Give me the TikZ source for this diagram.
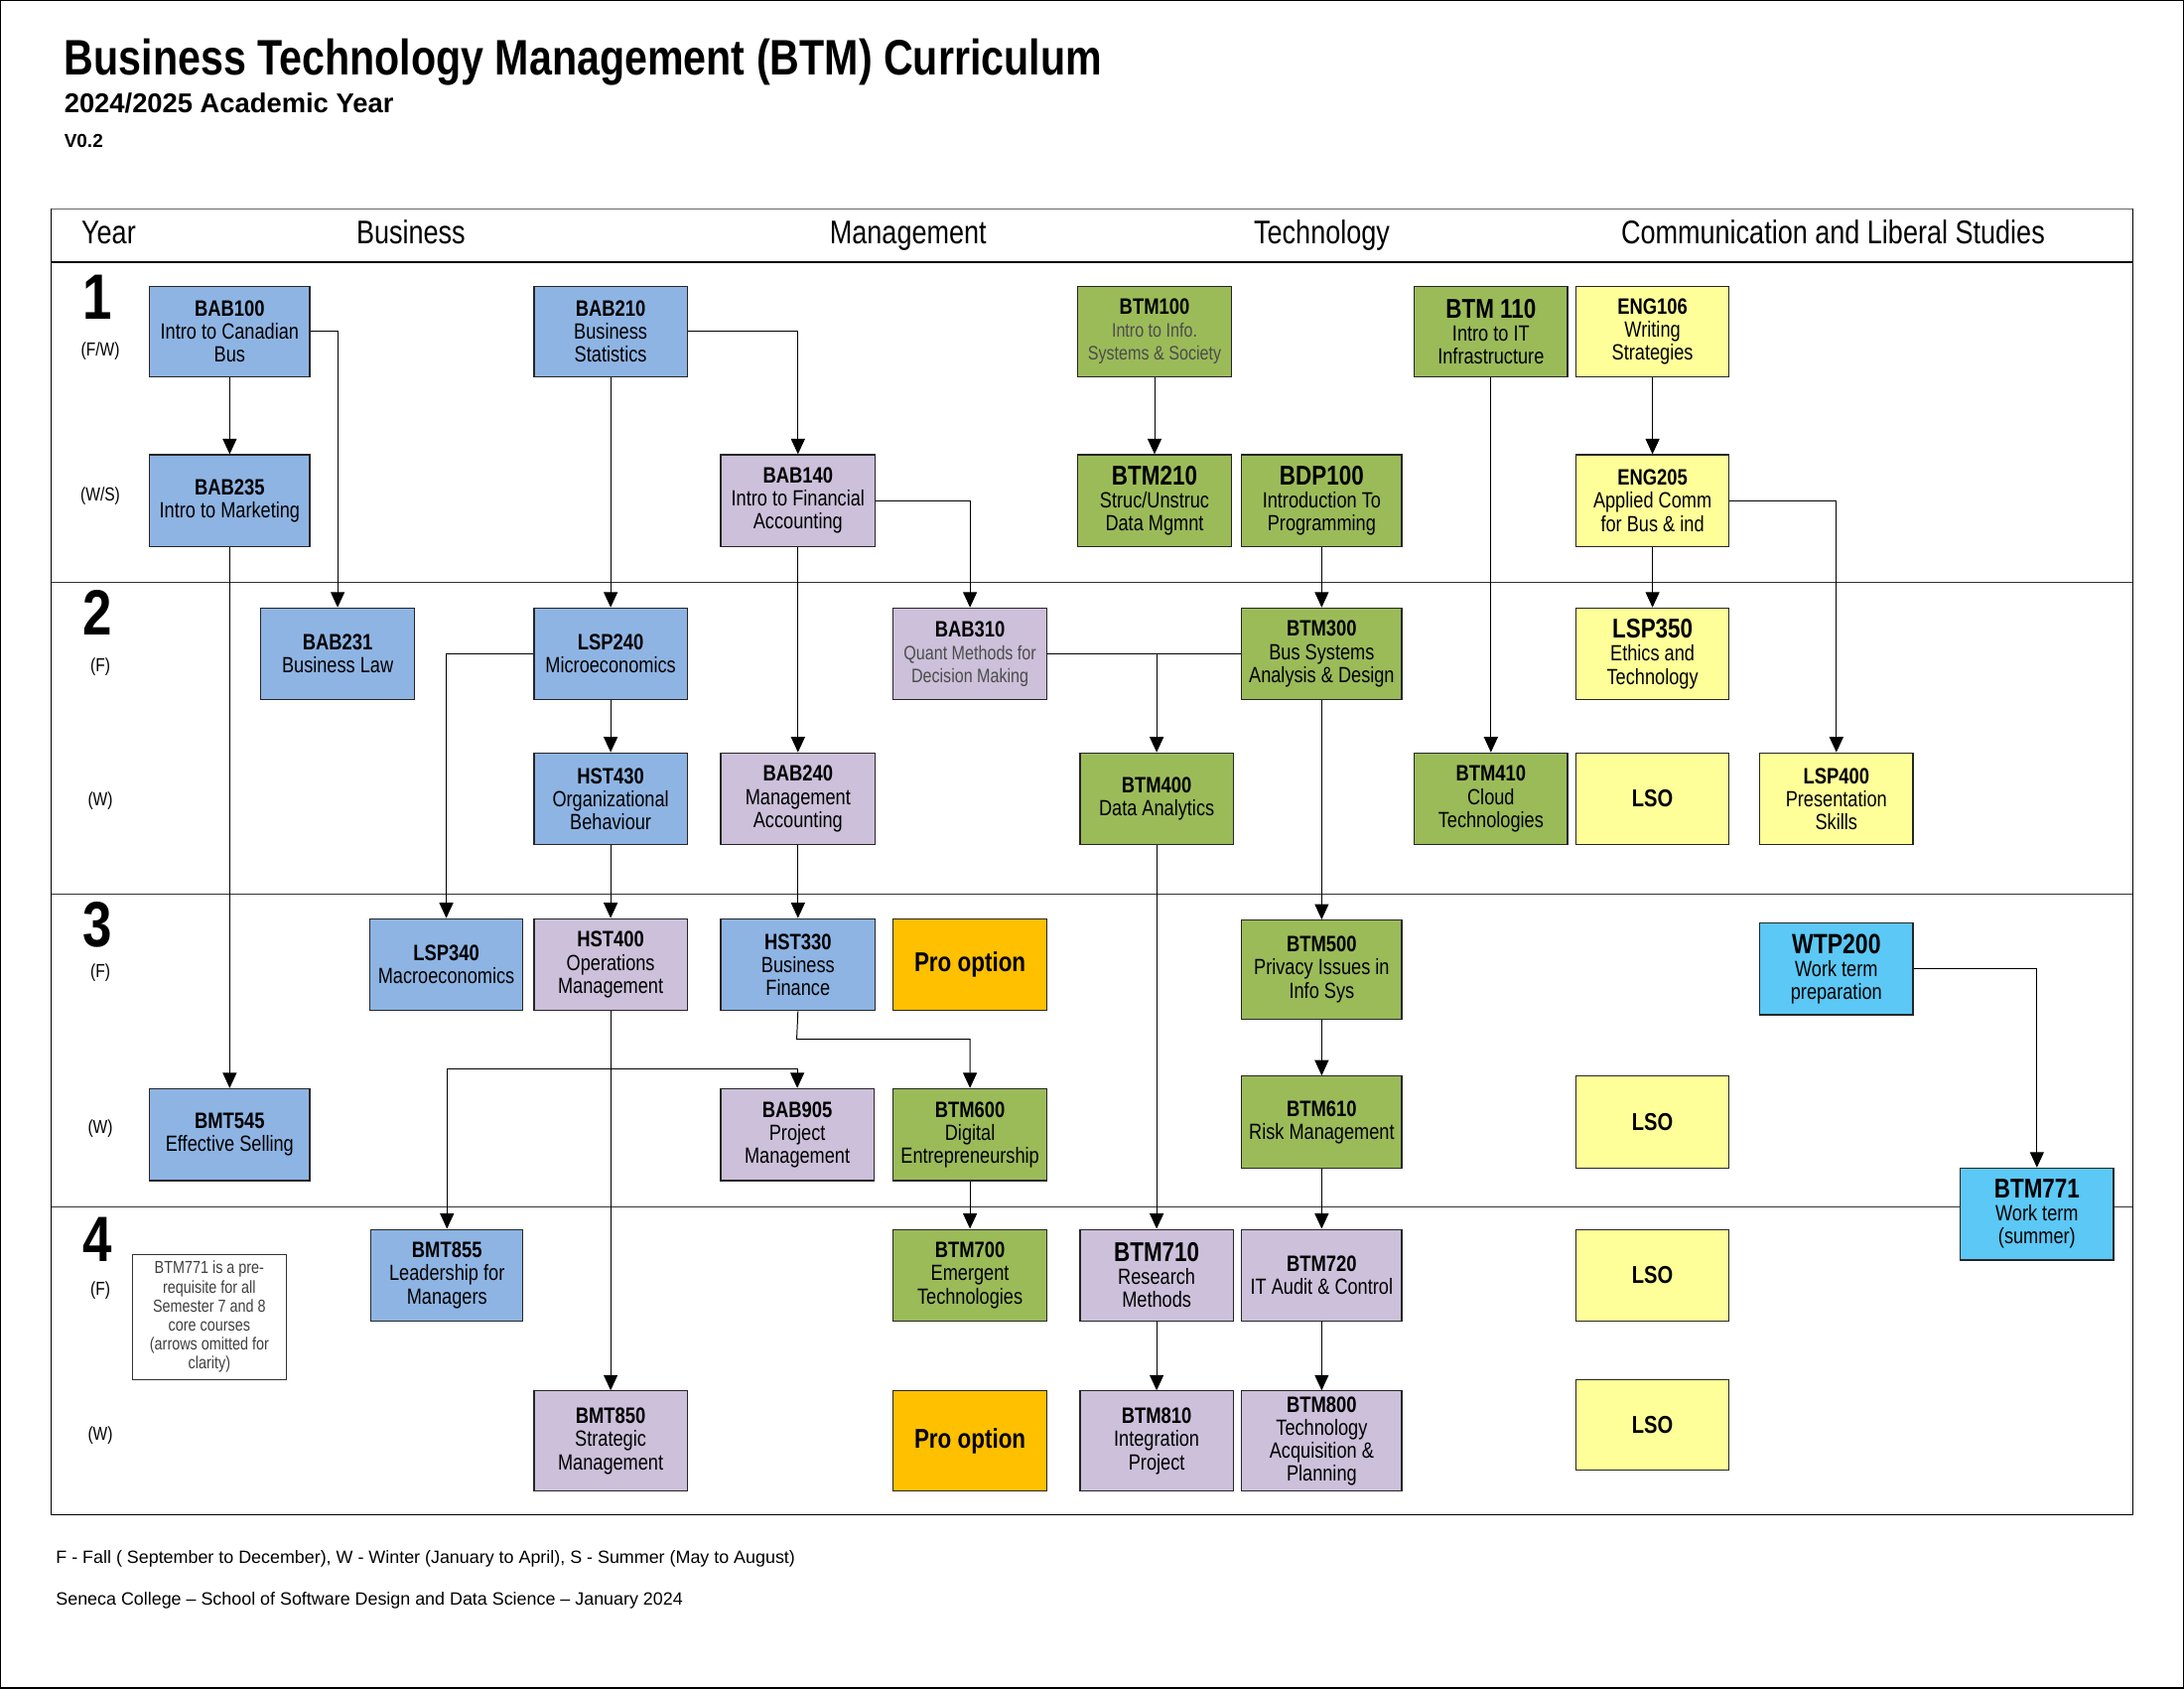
\documentclass[tikz,border=0pt]{standalone}
\usepackage{fontspec}
\setmainfont{Liberation Sans}[FakeStretch=0.82]
\newfontfamily\widesans{Liberation Sans}
\usetikzlibrary{arrows.meta}
\definecolor{cblue}{HTML}{8EB4E3}
\definecolor{clav}{HTML}{CCC0DA}
\definecolor{cgreen}{HTML}{9BBB59}
\definecolor{cyel}{HTML}{FFFF99}
\definecolor{corange}{HTML}{FFC000}
\definecolor{ccyan}{HTML}{5BC8F5}
\newcommand\cd[1]{{\fontsize{16}{17}\selectfont\bfseries #1}}
\newcommand\cD[1]{{\fontsize{19.5}{19.5}\selectfont\bfseries #1}}
\newcommand\lite[1]{{\fontsize{14}{15.5}\selectfont\color{black!70}#1}}
\newcommand\crsbox[7]{\node[crs,fill=#1,minimum width={#5-#3},minimum height={#6-#4}] (#2) at (#3,#4) {#7};}
\tikzset{
  crs/.style={draw=black!85, line width=0.8pt, inner sep=0pt, anchor=north west, align=center,
    font=\fontsize{15.8}{16.5}\selectfont},
  arr/.style={draw=black, line width=0.7pt, -{Triangle[length=11pt,width=10pt]}},
  ln/.style={draw=black, line width=0.7pt},
  hdr/.style={font=\fontsize{23.5}{25}\selectfont, anchor=base},
  yr/.style={font=\fontsize{46}{46}\selectfont\bfseries},
  sem/.style={font=\fontsize{13.5}{15}\selectfont},
  foot/.style={font=\widesans\fontsize{12.75}{15}\selectfont, anchor=base west},
  pro/.style={font=\fontsize{19.5}{20}\selectfont\bfseries},
}
\begin{document}
\begin{tikzpicture}[x=1pt,y=-1pt]
\useasboundingbox (0,0) rectangle (1568,1212);
\draw[line width=1pt] (0.5,0.5) rectangle (1567.5,1211.5);
% titles
\node[anchor=base west, inner sep=0, font=\fontsize{35.8}{38}\selectfont\bfseries] (title) at (46,54) {Business Technology Management (BTM) Curriculum};
\node[anchor=base west, inner sep=0, font=\widesans\fontsize{19.5}{21}\selectfont\bfseries] (subtitle) at (46,81) {2024/2025 Academic Year};
\node[anchor=base west, inner sep=0, font=\widesans\fontsize{13.5}{15}\selectfont\bfseries] (ver) at (46,106) {V0.2};
% frame
\draw[black!60, line width=0.8pt] (37,150) -- (1531,150);
\draw[line width=0.8pt] (37,150) -- (37,1087) -- (1531,1087) -- (1531,150);
\draw[line width=1.2pt] (37,188) -- (1531,188);
\draw[black!80, line width=0.8pt] (37,418) -- (1531,418);
\draw[black!80, line width=0.8pt] (37,642) -- (1531,642);
\draw[black!80, line width=0.8pt] (37,866) -- (1531,866);
% header
\node[hdr, inner sep=0] (hyear) at (78,175) {Year};
\node[hdr, inner sep=0] (hbus) at (295,175) {Business};
\node[hdr, inner sep=0] (hman) at (652,175) {Management};
\node[hdr, inner sep=0] (htec) at (949,175) {Technology};
\node[hdr, inner sep=0] (hcom) at (1316,175) {Communication and Liberal Studies};
% year labels
\node[yr, inner sep=0] (y1) at (70,213) {1};
\node[yr, inner sep=0] (y2) at (70,440) {2};
\node[yr, inner sep=0] (y3) at (70,664) {3};
\node[yr, inner sep=0] (y4) at (70,890) {4};
\node[sem] (s1) at (72,252) {(F/W)};
\node[sem] (s2) at (72,356) {(W/S)};
\node[sem] (s3) at (72,479) {(F)};
\node[sem] (s4) at (72,575) {(W)};
\node[sem] (s5) at (72,698) {(F)};
\node[sem] (s6) at (72,810) {(W)};
\node[sem] (s7) at (72,926) {(F)};
\node[sem] (s8) at (72,1030) {(W)};
% Year 1
\crsbox{cblue}{bab100}{107}{205}{222}{270}{\cd{BAB100}\\Intro to Canadian\\Bus}
\crsbox{cblue}{bab210}{383}{205}{493}{270}{\cd{BAB210}\\Business\\Statistics}
\crsbox{cgreen}{btm100}{773}{205}{884}{270}{\cd{BTM100}\\\lite{Intro to Info.}\\\lite{Systems \& Society}}
\crsbox{cgreen}{btm110}{1015}{205}{1125}{270}{\cD{BTM 110}\\Intro to IT\\Infrastructure}
\crsbox{cyel}{eng106}{1131}{205}{1241}{270}{\cd{ENG106}\\Writing\\Strategies}
\crsbox{cblue}{bab235}{107}{326}{222}{392}{\cd{BAB235}\\Intro to Marketing}
\crsbox{clav}{bab140}{517}{326}{628}{392}{\cd{BAB140}\\Intro to Financial\\Accounting}
\crsbox{cgreen}{btm210}{773}{326}{884}{392}{\cD{BTM210}\\Struc/Unstruc\\Data Mgmnt}
\crsbox{cgreen}{bdp100}{891}{326}{1006}{392}{\cD{BDP100}\\Introduction To\\Programming}
\crsbox{cyel}{eng205}{1131}{326}{1241}{392}{\cd{ENG205}\\Applied Comm\\for Bus \& ind}
% Year 2
\crsbox{cblue}{bab231}{187}{436}{297}{502}{\cd{BAB231}\\Business Law}
\crsbox{cblue}{lsp240}{383}{436}{493}{502}{\cd{LSP240}\\Microeconomics}
\crsbox{clav}{bab310}{641}{436}{751}{502}{\cd{BAB310}\\\lite{Quant Methods for}\\\lite{Decision Making}}
\crsbox{cgreen}{btm300}{891}{436}{1006}{502}{\cd{BTM300}\\Bus Systems\\Analysis \& Design}
\crsbox{cyel}{lsp350}{1131}{436}{1241}{502}{\cD{LSP350}\\Ethics and\\Technology}
\crsbox{cblue}{hst430}{383}{540}{493}{606}{\cd{HST430}\\Organizational\\Behaviour}
\crsbox{clav}{bab240}{517}{540}{628}{606}{\cd{BAB240}\\Management\\Accounting}
\crsbox{cgreen}{btm400}{775}{540}{885}{606}{\cd{BTM400}\\Data Analytics}
\crsbox{cgreen}{btm410}{1015}{540}{1125}{606}{\cd{BTM410}\\Cloud\\Technologies}
\crsbox{cyel}{lso1}{1131}{540}{1241}{606}{\fontsize{17.5}{18}\selectfont\bfseries LSO}
\crsbox{cyel}{lsp400}{1263}{540}{1373}{606}{\cd{LSP400}\\Presentation\\Skills}
% Year 3
\crsbox{cblue}{lsp340}{265}{659}{375}{725}{\cd{LSP340}\\Macroeconomics}
\crsbox{clav}{hst400}{383}{659}{493}{725}{\cd{HST400}\\Operations\\Management}
\crsbox{cblue}{hst330}{517}{659}{628}{725}{\cd{HST330}\\Business\\Finance}
\crsbox{corange}{pro1}{641}{659}{751}{725}{\fontsize{19.5}{20}\selectfont\bfseries Pro option}
\crsbox{cgreen}{btm500}{891}{660}{1006}{731}{\cd{BTM500}\\Privacy Issues in\\Info Sys}
\crsbox{ccyan}{wtp200}{1263}{662}{1373}{728}{\fontsize{20}{20}\selectfont\bfseries WTP200\\\fontsize{15.8}{16.5}\selectfont Work term\\preparation}
\crsbox{cblue}{bmt545}{107}{781}{222}{847}{\cd{BMT545}\\Effective Selling}
\crsbox{clav}{bab905}{517}{781}{627}{847}{\cd{BAB905}\\Project\\Management}
\crsbox{cgreen}{btm600}{641}{781}{751}{847}{\cd{BTM600}\\Digital\\Entrepreneurship}
\crsbox{cgreen}{btm610}{891}{772}{1006}{838}{\cd{BTM610}\\Risk Management}
\crsbox{cyel}{lso2}{1131}{772}{1241}{838}{\fontsize{17.5}{18}\selectfont\bfseries LSO}
\crsbox{ccyan}{btm771}{1407}{838}{1517}{904}{\cD{BTM771}\\Work term\\(summer)}
% Year 4
\node[draw=black!80, line width=0.6pt, fill=white, anchor=north west, inner sep=0pt, minimum width=110, minimum height=90, align=center, font=\fontsize{12.5}{13.7}\selectfont\color{black!75}] (note) at (95,900) {BTM771 is a pre-\\requisite for all\\Semester 7 and 8\\core courses\\(arrows omitted for\\clarity)};
\crsbox{cblue}{bmt855}{266}{882}{375}{948}{\cd{BMT855}\\Leadership for\\Managers}
\crsbox{cgreen}{btm700}{641}{882}{751}{948}{\cd{BTM700}\\Emergent\\Technologies}
\crsbox{clav}{btm710}{775}{882}{885}{948}{\cD{BTM710}\\Research\\Methods}
\crsbox{clav}{btm720}{891}{882}{1006}{948}{\cd{BTM720}\\IT Audit \& Control}
\crsbox{cyel}{lso3}{1131}{882}{1241}{948}{\fontsize{17.5}{18}\selectfont\bfseries LSO}
\crsbox{clav}{bmt850}{383}{998}{493}{1070}{\cd{BMT850}\\Strategic\\Management}
\crsbox{corange}{pro2}{641}{998}{751}{1070}{\fontsize{19.5}{20}\selectfont\bfseries Pro option}
\crsbox{clav}{btm810}{775}{998}{885}{1070}{\cd{BTM810}\\Integration\\Project}
\crsbox{clav}{btm800}{891}{998}{1006}{1070}{\cd{BTM800}\\Technology\\Acquisition \&\\Planning}
\crsbox{cyel}{lso4}{1131}{990}{1241}{1055}{\fontsize{17.5}{18}\selectfont\bfseries LSO}
% connectors
\draw[arr] (bab100.south) -- (bab235.north);
\draw[arr] (bab100.east) -| (bab231.north);
\draw[arr] (bab210.east) -| (bab140.north);
\draw[arr] (bab210.south) -- (lsp240.north);
\draw[arr] (bab235.south) -- (bmt545.north);
\draw[arr] (bab140.east) -| (bab310.north);
\draw[arr] (bab140.south) -- (bab240.north);
\draw[arr] (btm100.south) -- (btm210.north);
\draw[arr] (bdp100.south) -- (btm300.north);
\draw[arr] (btm110.south) -- (btm410.north);
\draw[arr] (eng106.south) -- (eng205.north);
\draw[arr] (eng205.south) -- (lsp350.north);
\draw[arr] (eng205.east) -| (lsp400.north);
\draw[arr] (lsp240.west) -| (lsp340.north);
\draw[arr] (lsp240.south) -- (hst430.north);
\draw[ln] (btm300.west) -- (bab310.east);
\draw[arr] (btm300.west -| btm400.north) -- (btm400.north);
\draw[arr] (btm300.south) -- (btm500.north);
\draw[arr] (hst430.south) -- (hst400.north);
\draw[arr] (bab240.south) -- (hst330.north);
\draw[arr] (hst400.south) -- (bmt850.north);
\coordinate (j2) at (438,767);
\draw[arr] (j2) -| (bab905.north);
\draw[arr] (j2) -| (bmt855.north);
\coordinate (j1) at (572,746);
\draw[arr] (hst330.south) -- (j1) -| (btm600.north);
\draw[arr] (btm600.south) -- (btm700.north);
\draw[arr] (btm400.south) -- (btm710.north);
\draw[arr] (btm500.south) -- (btm610.north);
\draw[arr] (btm610.south) -- (btm720.north);
\draw[arr] (btm710.south) -- (btm810.north);
\draw[arr] (btm720.south) -- (btm800.north);
\draw[arr] (wtp200.east) -| (btm771.north);
% footer
\node[foot, inner sep=0] (f1) at (40,1122) {F - Fall ( September to December), W - Winter (January to April), S - Summer (May to August)};
\node[foot, inner sep=0] (f2) at (40,1152) {Seneca College – School of Software Design and Data Science – January 2024};
\end{tikzpicture}
\end{document}
